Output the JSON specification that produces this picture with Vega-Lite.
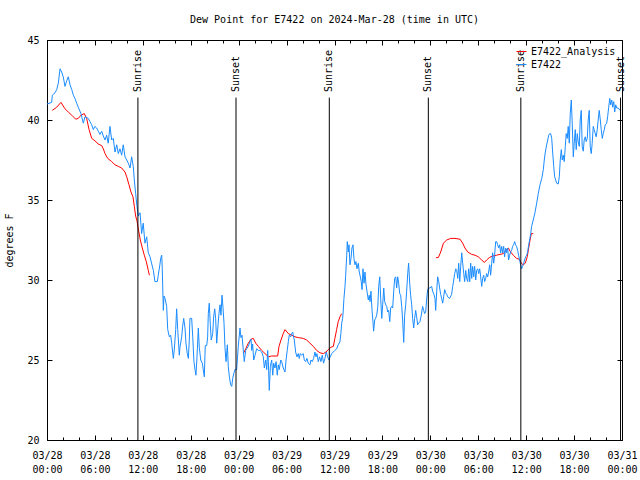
{
  "$schema": "https://vega.github.io/schema/vega-lite/v6.json",
  "width": 575,
  "height": 400,
  "autosize": {"type": "none"},
  "padding": {"left": 47, "top": 40, "right": 18, "bottom": 40},
  "background": "white",
  "title": {"text": "Dew Point for E7422 on 2024-Mar-28 (time in UTC)", "font": "DejaVu Sans Mono", "fontSize": 10, "fontWeight": "normal", "color": "black", "anchor": "middle", "offset": 10},
  "config": {
    "view": {"stroke": "black", "strokeWidth": 1},
    "font": "DejaVu Sans Mono",
    "axis": {"labelFont": "DejaVu Sans Mono", "labelFontSize": 10, "labelColor": "black", "tickColor": "black", "tickWidth": 1, "domain": false, "grid": false, "titleFont": "DejaVu Sans Mono", "titleFontSize": 10, "titleFontWeight": "normal", "titleColor": "black"},
    "legend": {"labelFont": "DejaVu Sans Mono", "labelFontSize": 10, "labelColor": "black"}
  },
  "resolve": {"axis": {"x": "independent", "y": "independent"}},
  "layer": [
    {
      "data": {
        "values": [
          {"t": "2024-03-28 00:40", "v": 40.6, "series": "E7422_Analysis", "seg": 1},
          {"t": "2024-03-28 01:13", "v": 40.8, "series": "E7422_Analysis", "seg": 1},
          {"t": "2024-03-28 01:45", "v": 41.1, "series": "E7422_Analysis", "seg": 1},
          {"t": "2024-03-28 02:15", "v": 40.7, "series": "E7422_Analysis", "seg": 1},
          {"t": "2024-03-28 02:40", "v": 40.5, "series": "E7422_Analysis", "seg": 1},
          {"t": "2024-03-28 03:06", "v": 40.3, "series": "E7422_Analysis", "seg": 1},
          {"t": "2024-03-28 03:36", "v": 40.05, "series": "E7422_Analysis", "seg": 1},
          {"t": "2024-03-28 03:55", "v": 40.1, "series": "E7422_Analysis", "seg": 1},
          {"t": "2024-03-28 04:15", "v": 40.3, "series": "E7422_Analysis", "seg": 1},
          {"t": "2024-03-28 04:40", "v": 40.4, "series": "E7422_Analysis", "seg": 1},
          {"t": "2024-03-28 04:58", "v": 40.1, "series": "E7422_Analysis", "seg": 1},
          {"t": "2024-03-28 05:16", "v": 39.4, "series": "E7422_Analysis", "seg": 1},
          {"t": "2024-03-28 05:36", "v": 38.85, "series": "E7422_Analysis", "seg": 1},
          {"t": "2024-03-28 06:00", "v": 38.7, "series": "E7422_Analysis", "seg": 1},
          {"t": "2024-03-28 06:25", "v": 38.5, "series": "E7422_Analysis", "seg": 1},
          {"t": "2024-03-28 06:51", "v": 38.4, "series": "E7422_Analysis", "seg": 1},
          {"t": "2024-03-28 07:03", "v": 38.2, "series": "E7422_Analysis", "seg": 1},
          {"t": "2024-03-28 07:16", "v": 37.9, "series": "E7422_Analysis", "seg": 1},
          {"t": "2024-03-28 07:36", "v": 37.6, "series": "E7422_Analysis", "seg": 1},
          {"t": "2024-03-28 08:06", "v": 37.4, "series": "E7422_Analysis", "seg": 1},
          {"t": "2024-03-28 08:31", "v": 37.2, "series": "E7422_Analysis", "seg": 1},
          {"t": "2024-03-28 08:56", "v": 37.1, "series": "E7422_Analysis", "seg": 1},
          {"t": "2024-03-28 09:21", "v": 37.0, "series": "E7422_Analysis", "seg": 1},
          {"t": "2024-03-28 09:46", "v": 36.75, "series": "E7422_Analysis", "seg": 1},
          {"t": "2024-03-28 09:59", "v": 36.45, "series": "E7422_Analysis", "seg": 1},
          {"t": "2024-03-28 10:16", "v": 35.95, "series": "E7422_Analysis", "seg": 1},
          {"t": "2024-03-28 10:31", "v": 35.5, "series": "E7422_Analysis", "seg": 1},
          {"t": "2024-03-28 10:46", "v": 35.2, "series": "E7422_Analysis", "seg": 1},
          {"t": "2024-03-28 10:56", "v": 34.6, "series": "E7422_Analysis", "seg": 1},
          {"t": "2024-03-28 11:06", "v": 34.0, "series": "E7422_Analysis", "seg": 1},
          {"t": "2024-03-28 11:16", "v": 33.7, "series": "E7422_Analysis", "seg": 1},
          {"t": "2024-03-28 11:26", "v": 33.2, "series": "E7422_Analysis", "seg": 1},
          {"t": "2024-03-28 11:41", "v": 32.5, "series": "E7422_Analysis", "seg": 1},
          {"t": "2024-03-28 11:56", "v": 32.0, "series": "E7422_Analysis", "seg": 1},
          {"t": "2024-03-28 12:11", "v": 31.55, "series": "E7422_Analysis", "seg": 1},
          {"t": "2024-03-28 12:26", "v": 31.15, "series": "E7422_Analysis", "seg": 1},
          {"t": "2024-03-28 12:41", "v": 30.6, "series": "E7422_Analysis", "seg": 1},
          {"t": "2024-03-28 12:49", "v": 30.3, "series": "E7422_Analysis", "seg": 1},
          {"t": "2024-03-29 00:35", "v": 25.4, "series": "E7422_Analysis", "seg": 2},
          {"t": "2024-03-29 00:53", "v": 25.7, "series": "E7422_Analysis", "seg": 2},
          {"t": "2024-03-29 01:12", "v": 26.05, "series": "E7422_Analysis", "seg": 2},
          {"t": "2024-03-29 01:33", "v": 26.3, "series": "E7422_Analysis", "seg": 2},
          {"t": "2024-03-29 01:50", "v": 26.35, "series": "E7422_Analysis", "seg": 2},
          {"t": "2024-03-29 02:08", "v": 26.05, "series": "E7422_Analysis", "seg": 2},
          {"t": "2024-03-29 02:28", "v": 25.85, "series": "E7422_Analysis", "seg": 2},
          {"t": "2024-03-29 02:53", "v": 25.6, "series": "E7422_Analysis", "seg": 2},
          {"t": "2024-03-29 03:18", "v": 25.4, "series": "E7422_Analysis", "seg": 2},
          {"t": "2024-03-29 03:43", "v": 25.2, "series": "E7422_Analysis", "seg": 2},
          {"t": "2024-03-29 04:08", "v": 25.25, "series": "E7422_Analysis", "seg": 2},
          {"t": "2024-03-29 04:33", "v": 25.25, "series": "E7422_Analysis", "seg": 2},
          {"t": "2024-03-29 04:53", "v": 25.25, "series": "E7422_Analysis", "seg": 2},
          {"t": "2024-03-29 05:03", "v": 25.85, "series": "E7422_Analysis", "seg": 2},
          {"t": "2024-03-29 05:18", "v": 26.25, "series": "E7422_Analysis", "seg": 2},
          {"t": "2024-03-29 05:35", "v": 26.65, "series": "E7422_Analysis", "seg": 2},
          {"t": "2024-03-29 05:48", "v": 26.9, "series": "E7422_Analysis", "seg": 2},
          {"t": "2024-03-29 06:13", "v": 26.65, "series": "E7422_Analysis", "seg": 2},
          {"t": "2024-03-29 06:38", "v": 26.55, "series": "E7422_Analysis", "seg": 2},
          {"t": "2024-03-29 07:03", "v": 26.45, "series": "E7422_Analysis", "seg": 2},
          {"t": "2024-03-29 07:28", "v": 26.4, "series": "E7422_Analysis", "seg": 2},
          {"t": "2024-03-29 08:05", "v": 26.35, "series": "E7422_Analysis", "seg": 2},
          {"t": "2024-03-29 08:31", "v": 26.25, "series": "E7422_Analysis", "seg": 2},
          {"t": "2024-03-29 08:56", "v": 26.05, "series": "E7422_Analysis", "seg": 2},
          {"t": "2024-03-29 09:21", "v": 25.85, "series": "E7422_Analysis", "seg": 2},
          {"t": "2024-03-29 09:46", "v": 25.6, "series": "E7422_Analysis", "seg": 2},
          {"t": "2024-03-29 10:11", "v": 25.45, "series": "E7422_Analysis", "seg": 2},
          {"t": "2024-03-29 10:36", "v": 25.4, "series": "E7422_Analysis", "seg": 2},
          {"t": "2024-03-29 10:56", "v": 25.5, "series": "E7422_Analysis", "seg": 2},
          {"t": "2024-03-29 11:13", "v": 25.65, "series": "E7422_Analysis", "seg": 2},
          {"t": "2024-03-29 11:34", "v": 25.8, "series": "E7422_Analysis", "seg": 2},
          {"t": "2024-03-29 11:51", "v": 25.85, "series": "E7422_Analysis", "seg": 2},
          {"t": "2024-03-29 12:03", "v": 26.35, "series": "E7422_Analysis", "seg": 2},
          {"t": "2024-03-29 12:16", "v": 26.9, "series": "E7422_Analysis", "seg": 2},
          {"t": "2024-03-29 12:28", "v": 27.4, "series": "E7422_Analysis", "seg": 2},
          {"t": "2024-03-29 12:41", "v": 27.7, "series": "E7422_Analysis", "seg": 2},
          {"t": "2024-03-29 12:54", "v": 27.9, "series": "E7422_Analysis", "seg": 2},
          {"t": "2024-03-30 00:43", "v": 31.4, "series": "E7422_Analysis", "seg": 3},
          {"t": "2024-03-30 01:00", "v": 31.4, "series": "E7422_Analysis", "seg": 3},
          {"t": "2024-03-30 01:18", "v": 31.75, "series": "E7422_Analysis", "seg": 3},
          {"t": "2024-03-30 01:38", "v": 32.3, "series": "E7422_Analysis", "seg": 3},
          {"t": "2024-03-30 02:03", "v": 32.5, "series": "E7422_Analysis", "seg": 3},
          {"t": "2024-03-30 02:33", "v": 32.6, "series": "E7422_Analysis", "seg": 3},
          {"t": "2024-03-30 03:05", "v": 32.6, "series": "E7422_Analysis", "seg": 3},
          {"t": "2024-03-30 03:43", "v": 32.55, "series": "E7422_Analysis", "seg": 3},
          {"t": "2024-03-30 04:03", "v": 32.3, "series": "E7422_Analysis", "seg": 3},
          {"t": "2024-03-30 04:20", "v": 32.0, "series": "E7422_Analysis", "seg": 3},
          {"t": "2024-03-30 04:41", "v": 31.75, "series": "E7422_Analysis", "seg": 3},
          {"t": "2024-03-30 05:11", "v": 31.6, "series": "E7422_Analysis", "seg": 3},
          {"t": "2024-03-30 05:36", "v": 31.55, "series": "E7422_Analysis", "seg": 3},
          {"t": "2024-03-30 06:00", "v": 31.45, "series": "E7422_Analysis", "seg": 3},
          {"t": "2024-03-30 06:26", "v": 31.25, "series": "E7422_Analysis", "seg": 3},
          {"t": "2024-03-30 06:46", "v": 31.1, "series": "E7422_Analysis", "seg": 3},
          {"t": "2024-03-30 07:03", "v": 31.25, "series": "E7422_Analysis", "seg": 3},
          {"t": "2024-03-30 07:23", "v": 31.4, "series": "E7422_Analysis", "seg": 3},
          {"t": "2024-03-30 07:48", "v": 31.5, "series": "E7422_Analysis", "seg": 3},
          {"t": "2024-03-30 08:18", "v": 31.55, "series": "E7422_Analysis", "seg": 3},
          {"t": "2024-03-30 08:43", "v": 31.6, "series": "E7422_Analysis", "seg": 3},
          {"t": "2024-03-30 09:08", "v": 31.65, "series": "E7422_Analysis", "seg": 3},
          {"t": "2024-03-30 09:28", "v": 31.85, "series": "E7422_Analysis", "seg": 3},
          {"t": "2024-03-30 09:46", "v": 32.0, "series": "E7422_Analysis", "seg": 3},
          {"t": "2024-03-30 10:03", "v": 31.75, "series": "E7422_Analysis", "seg": 3},
          {"t": "2024-03-30 10:23", "v": 31.55, "series": "E7422_Analysis", "seg": 3},
          {"t": "2024-03-30 10:48", "v": 31.35, "series": "E7422_Analysis", "seg": 3},
          {"t": "2024-03-30 11:08", "v": 31.3, "series": "E7422_Analysis", "seg": 3},
          {"t": "2024-03-30 11:23", "v": 31.05, "series": "E7422_Analysis", "seg": 3},
          {"t": "2024-03-30 11:38", "v": 30.95, "series": "E7422_Analysis", "seg": 3},
          {"t": "2024-03-30 11:53", "v": 31.05, "series": "E7422_Analysis", "seg": 3},
          {"t": "2024-03-30 12:08", "v": 31.45, "series": "E7422_Analysis", "seg": 3},
          {"t": "2024-03-30 12:19", "v": 32.0, "series": "E7422_Analysis", "seg": 3},
          {"t": "2024-03-30 12:29", "v": 32.5, "series": "E7422_Analysis", "seg": 3},
          {"t": "2024-03-30 12:39", "v": 32.9, "series": "E7422_Analysis", "seg": 3},
          {"t": "2024-03-30 12:53", "v": 32.9, "series": "E7422_Analysis", "seg": 3}
        ],
        "format": {"parse": {"t": "utc:'%Y-%m-%d %H:%M'"}}
      },
      "mark": {"type": "line", "strokeWidth": 1},
      "encoding": {
        "x": {"field": "t", "type": "temporal", "scale": {"domain": [1711584000000, 1711843200000], "nice": false},
          "axis": {"orient": "bottom", "title": null, "values": [1711584000000, 1711605600000, 1711627200000, 1711648800000, 1711670400000, 1711692000000, 1711713600000, 1711735200000, 1711756800000, 1711778400000, 1711800000000, 1711821600000, 1711843200000], "tickSize": -5, "labelPadding": 15, "labelLineHeight": 14, "labelExpr": "[utcFormat(datum.value, '%m/%d'), utcFormat(datum.value, '%H:%M')]", "labelFlush": false, "labelOverlap": false}},
        "y": {"field": "v", "type": "quantitative", "scale": {"domain": [20, 45], "nice": false, "zero": false},
          "axis": {"orient": "left", "values": [20, 25, 30, 35, 40, 45], "tickSize": -5, "labelPadding": 13, "title": "degrees F", "titlePadding": 12}},
        "color": {"field": "series", "type": "nominal", "scale": {"domain": ["E7422_Analysis", "E7422"], "range": ["#ff0000", "#1a8cff"]},
          "legend": {"orient": "top-right", "offset": 6, "title": null, "symbolType": "stroke", "symbolStrokeWidth": 1}},
        "detail": {"field": "seg", "type": "nominal"}
      }
    },
    {
      "data": {
        "values": [
          {"t": "2024-03-28 00:00", "v": 41.0}, {"t": "2024-03-28 00:35", "v": 41.1}, {"t": "2024-03-28 00:40", "v": 41.55}, {"t": "2024-03-28 01:00", "v": 41.7}, {"t": "2024-03-28 01:13", "v": 41.9}, {"t": "2024-03-28 01:25", "v": 42.3}, {"t": "2024-03-28 01:38", "v": 43.2}, {"t": "2024-03-28 01:50", "v": 43.0}, {"t": "2024-03-28 02:02", "v": 42.7}, {"t": "2024-03-28 02:15", "v": 42.1}, {"t": "2024-03-28 02:28", "v": 42.45}, {"t": "2024-03-28 02:40", "v": 42.7}, {"t": "2024-03-28 02:53", "v": 42.2}, {"t": "2024-03-28 03:06", "v": 41.9}, {"t": "2024-03-28 03:18", "v": 41.55}, {"t": "2024-03-28 03:30", "v": 41.35}, {"t": "2024-03-28 03:43", "v": 41.05}, {"t": "2024-03-28 03:55", "v": 40.8}, {"t": "2024-03-28 04:15", "v": 40.4}, {"t": "2024-03-28 04:33", "v": 39.8}, {"t": "2024-03-28 04:45", "v": 40.2}, {"t": "2024-03-28 05:10", "v": 40.1}, {"t": "2024-03-28 05:23", "v": 39.9}, {"t": "2024-03-28 05:36", "v": 39.7}, {"t": "2024-03-28 05:48", "v": 39.4}, {"t": "2024-03-28 06:00", "v": 39.6}, {"t": "2024-03-28 06:13", "v": 39.5}, {"t": "2024-03-28 06:25", "v": 39.3}, {"t": "2024-03-28 06:38", "v": 39.1}, {"t": "2024-03-28 06:51", "v": 39.3}, {"t": "2024-03-28 07:03", "v": 39.0}, {"t": "2024-03-28 07:16", "v": 38.75}, {"t": "2024-03-28 07:28", "v": 39.05}, {"t": "2024-03-28 07:40", "v": 38.55}, {"t": "2024-03-28 07:53", "v": 39.6}, {"t": "2024-03-28 08:06", "v": 38.75}, {"t": "2024-03-28 08:18", "v": 38.85}, {"t": "2024-03-28 08:31", "v": 38.0}, {"t": "2024-03-28 08:44", "v": 38.45}, {"t": "2024-03-28 08:56", "v": 37.9}, {"t": "2024-03-28 09:08", "v": 38.2}, {"t": "2024-03-28 09:21", "v": 37.8}, {"t": "2024-03-28 09:33", "v": 38.45}, {"t": "2024-03-28 09:46", "v": 37.7}, {"t": "2024-03-28 09:59", "v": 37.5}, {"t": "2024-03-28 10:11", "v": 37.3}, {"t": "2024-03-28 10:24", "v": 37.0}, {"t": "2024-03-28 10:36", "v": 37.7}, {"t": "2024-03-28 10:48", "v": 37.1}, {"t": "2024-03-28 10:56", "v": 36.25}, {"t": "2024-03-28 11:06", "v": 35.4}, {"t": "2024-03-28 11:16", "v": 34.6}, {"t": "2024-03-28 11:26", "v": 34.0}, {"t": "2024-03-28 11:39", "v": 34.2}, {"t": "2024-03-28 11:51", "v": 32.9}, {"t": "2024-03-28 12:03", "v": 33.55}, {"t": "2024-03-28 12:16", "v": 32.3}, {"t": "2024-03-28 12:29", "v": 32.7}, {"t": "2024-03-28 12:41", "v": 31.7}, {"t": "2024-03-28 12:54", "v": 31.45}, {"t": "2024-03-28 13:07", "v": 31.0}, {"t": "2024-03-28 13:19", "v": 30.6}, {"t": "2024-03-28 13:31", "v": 29.9}, {"t": "2024-03-28 13:49", "v": 29.9}, {"t": "2024-03-28 13:56", "v": 30.3}, {"t": "2024-03-28 14:09", "v": 31.0}, {"t": "2024-03-28 14:14", "v": 31.35}, {"t": "2024-03-28 14:22", "v": 31.55}, {"t": "2024-03-28 14:26", "v": 30.7}, {"t": "2024-03-28 14:34", "v": 28.1}, {"t": "2024-03-28 14:39", "v": 29.0}, {"t": "2024-03-28 14:47", "v": 28.85}, {"t": "2024-03-28 14:59", "v": 28.35}, {"t": "2024-03-28 15:07", "v": 26.9}, {"t": "2024-03-28 15:19", "v": 26.45}, {"t": "2024-03-28 15:29", "v": 26.55}, {"t": "2024-03-28 15:37", "v": 26.05}, {"t": "2024-03-28 15:49", "v": 25.1}, {"t": "2024-03-28 15:56", "v": 25.6}, {"t": "2024-03-28 16:07", "v": 26.9}, {"t": "2024-03-28 16:14", "v": 28.2}, {"t": "2024-03-28 16:22", "v": 26.9}, {"t": "2024-03-28 16:34", "v": 25.3}, {"t": "2024-03-28 16:39", "v": 25.8}, {"t": "2024-03-28 16:52", "v": 26.45}, {"t": "2024-03-28 16:59", "v": 27.1}, {"t": "2024-03-28 17:07", "v": 27.6}, {"t": "2024-03-28 17:17", "v": 27.0}, {"t": "2024-03-28 17:24", "v": 26.05}, {"t": "2024-03-28 17:34", "v": 25.4}, {"t": "2024-03-28 17:42", "v": 25.1}, {"t": "2024-03-28 17:49", "v": 26.25}, {"t": "2024-03-28 17:54", "v": 27.6}, {"t": "2024-03-28 18:07", "v": 27.6}, {"t": "2024-03-28 18:15", "v": 26.45}, {"t": "2024-03-28 18:24", "v": 24.9}, {"t": "2024-03-28 18:32", "v": 24.4}, {"t": "2024-03-28 18:39", "v": 24.05}, {"t": "2024-03-28 18:47", "v": 25.2}, {"t": "2024-03-28 18:57", "v": 27.0}, {"t": "2024-03-28 19:04", "v": 25.8}, {"t": "2024-03-28 19:15", "v": 25.0}, {"t": "2024-03-28 19:27", "v": 24.8}, {"t": "2024-03-28 19:34", "v": 24.4}, {"t": "2024-03-28 19:42", "v": 23.95}, {"t": "2024-03-28 19:49", "v": 25.9}, {"t": "2024-03-28 20:00", "v": 25.9}, {"t": "2024-03-28 20:07", "v": 26.45}, {"t": "2024-03-28 20:12", "v": 27.9}, {"t": "2024-03-28 20:19", "v": 28.55}, {"t": "2024-03-28 20:27", "v": 27.2}, {"t": "2024-03-28 20:34", "v": 26.25}, {"t": "2024-03-28 20:45", "v": 26.65}, {"t": "2024-03-28 20:52", "v": 27.7}, {"t": "2024-03-28 21:00", "v": 28.2}, {"t": "2024-03-28 21:07", "v": 27.6}, {"t": "2024-03-28 21:15", "v": 26.05}, {"t": "2024-03-28 21:25", "v": 27.2}, {"t": "2024-03-28 21:32", "v": 27.9}, {"t": "2024-03-28 21:40", "v": 28.45}, {"t": "2024-03-28 21:47", "v": 27.8}, {"t": "2024-03-28 21:55", "v": 29.05}, {"t": "2024-03-28 22:02", "v": 28.3}, {"t": "2024-03-28 22:10", "v": 27.3}, {"t": "2024-03-28 22:17", "v": 25.8}, {"t": "2024-03-28 22:25", "v": 24.9}, {"t": "2024-03-28 22:35", "v": 25.95}, {"t": "2024-03-28 22:42", "v": 24.6}, {"t": "2024-03-28 22:50", "v": 23.95}, {"t": "2024-03-28 23:00", "v": 23.45}, {"t": "2024-03-28 23:08", "v": 23.35}, {"t": "2024-03-28 23:15", "v": 23.85}, {"t": "2024-03-28 23:25", "v": 24.2}, {"t": "2024-03-28 23:32", "v": 24.4}, {"t": "2024-03-28 23:45", "v": 24.4}, {"t": "2024-03-28 23:57", "v": 25.85},
          {"t": "2024-03-29 00:10", "v": 27.0}, {"t": "2024-03-29 00:17", "v": 26.4}, {"t": "2024-03-29 00:25", "v": 26.55}, {"t": "2024-03-29 00:35", "v": 25.6}, {"t": "2024-03-29 00:42", "v": 24.9}, {"t": "2024-03-29 00:53", "v": 25.6}, {"t": "2024-03-29 01:00", "v": 25.7}, {"t": "2024-03-29 01:12", "v": 25.85}, {"t": "2024-03-29 01:25", "v": 26.15}, {"t": "2024-03-29 01:33", "v": 26.3}, {"t": "2024-03-29 01:38", "v": 25.6}, {"t": "2024-03-29 01:45", "v": 26.0}, {"t": "2024-03-29 01:53", "v": 25.0}, {"t": "2024-03-29 02:03", "v": 25.3}, {"t": "2024-03-29 02:15", "v": 25.7}, {"t": "2024-03-29 02:28", "v": 25.6}, {"t": "2024-03-29 02:40", "v": 25.6}, {"t": "2024-03-29 02:53", "v": 25.5}, {"t": "2024-03-29 03:05", "v": 25.2}, {"t": "2024-03-29 03:13", "v": 24.5}, {"t": "2024-03-29 03:23", "v": 25.0}, {"t": "2024-03-29 03:31", "v": 24.4}, {"t": "2024-03-29 03:38", "v": 25.6}, {"t": "2024-03-29 03:43", "v": 24.9}, {"t": "2024-03-29 03:50", "v": 23.1}, {"t": "2024-03-29 03:58", "v": 24.6}, {"t": "2024-03-29 04:08", "v": 25.0}, {"t": "2024-03-29 04:16", "v": 24.05}, {"t": "2024-03-29 04:23", "v": 24.8}, {"t": "2024-03-29 04:33", "v": 24.5}, {"t": "2024-03-29 04:41", "v": 24.9}, {"t": "2024-03-29 04:50", "v": 24.05}, {"t": "2024-03-29 04:58", "v": 24.7}, {"t": "2024-03-29 05:05", "v": 24.4}, {"t": "2024-03-29 05:16", "v": 25.0}, {"t": "2024-03-29 05:23", "v": 24.9}, {"t": "2024-03-29 05:35", "v": 24.5}, {"t": "2024-03-29 05:48", "v": 24.25}, {"t": "2024-03-29 05:56", "v": 25.0}, {"t": "2024-03-29 06:05", "v": 25.6}, {"t": "2024-03-29 06:13", "v": 26.15}, {"t": "2024-03-29 06:20", "v": 26.55}, {"t": "2024-03-29 06:31", "v": 26.45}, {"t": "2024-03-29 06:38", "v": 26.65}, {"t": "2024-03-29 06:46", "v": 26.75}, {"t": "2024-03-29 06:50", "v": 26.55}, {"t": "2024-03-29 06:58", "v": 26.25}, {"t": "2024-03-29 07:08", "v": 25.5}, {"t": "2024-03-29 07:18", "v": 25.2}, {"t": "2024-03-29 07:28", "v": 25.4}, {"t": "2024-03-29 07:35", "v": 25.1}, {"t": "2024-03-29 07:43", "v": 25.4}, {"t": "2024-03-29 07:53", "v": 25.3}, {"t": "2024-03-29 08:05", "v": 25.4}, {"t": "2024-03-29 08:13", "v": 25.0}, {"t": "2024-03-29 08:23", "v": 24.9}, {"t": "2024-03-29 08:33", "v": 25.1}, {"t": "2024-03-29 08:43", "v": 24.8}, {"t": "2024-03-29 08:56", "v": 24.7}, {"t": "2024-03-29 09:03", "v": 25.0}, {"t": "2024-03-29 09:13", "v": 24.9}, {"t": "2024-03-29 09:23", "v": 25.1}, {"t": "2024-03-29 09:33", "v": 25.5}, {"t": "2024-03-29 09:41", "v": 25.2}, {"t": "2024-03-29 09:48", "v": 25.4}, {"t": "2024-03-29 09:58", "v": 24.9}, {"t": "2024-03-29 10:08", "v": 25.2}, {"t": "2024-03-29 10:18", "v": 24.9}, {"t": "2024-03-29 10:28", "v": 25.3}, {"t": "2024-03-29 10:38", "v": 24.8}, {"t": "2024-03-29 10:48", "v": 25.1}, {"t": "2024-03-29 10:58", "v": 25.5}, {"t": "2024-03-29 11:08", "v": 25.2}, {"t": "2024-03-29 11:18", "v": 25.0}, {"t": "2024-03-29 11:28", "v": 25.2}, {"t": "2024-03-29 11:39", "v": 25.4}, {"t": "2024-03-29 11:51", "v": 25.5}, {"t": "2024-03-29 12:03", "v": 25.6}, {"t": "2024-03-29 12:16", "v": 25.7}, {"t": "2024-03-29 12:28", "v": 25.95}, {"t": "2024-03-29 12:41", "v": 26.15}, {"t": "2024-03-29 12:48", "v": 26.65}, {"t": "2024-03-29 12:54", "v": 27.3}, {"t": "2024-03-29 13:01", "v": 27.6}, {"t": "2024-03-29 13:05", "v": 28.0}, {"t": "2024-03-29 13:11", "v": 28.85}, {"t": "2024-03-29 13:19", "v": 29.6}, {"t": "2024-03-29 13:24", "v": 30.3}, {"t": "2024-03-29 13:32", "v": 31.55}, {"t": "2024-03-29 13:36", "v": 32.4}, {"t": "2024-03-29 13:44", "v": 31.75}, {"t": "2024-03-29 13:49", "v": 32.2}, {"t": "2024-03-29 13:56", "v": 30.95}, {"t": "2024-03-29 14:04", "v": 31.35}, {"t": "2024-03-29 14:11", "v": 32.0}, {"t": "2024-03-29 14:19", "v": 32.2}, {"t": "2024-03-29 14:26", "v": 31.35}, {"t": "2024-03-29 14:34", "v": 30.95}, {"t": "2024-03-29 14:41", "v": 31.15}, {"t": "2024-03-29 14:49", "v": 30.7}, {"t": "2024-03-29 14:59", "v": 31.05}, {"t": "2024-03-29 15:06", "v": 30.5}, {"t": "2024-03-29 15:14", "v": 30.2}, {"t": "2024-03-29 15:21", "v": 29.9}, {"t": "2024-03-29 15:27", "v": 29.4}, {"t": "2024-03-29 15:34", "v": 30.7}, {"t": "2024-03-29 15:42", "v": 29.8}, {"t": "2024-03-29 15:49", "v": 30.5}, {"t": "2024-03-29 15:57", "v": 29.7}, {"t": "2024-03-29 16:04", "v": 29.3}, {"t": "2024-03-29 16:14", "v": 28.75}, {"t": "2024-03-29 16:21", "v": 29.05}, {"t": "2024-03-29 16:27", "v": 28.65}, {"t": "2024-03-29 16:34", "v": 29.3}, {"t": "2024-03-29 16:42", "v": 28.1}, {"t": "2024-03-29 16:49", "v": 27.4}, {"t": "2024-03-29 16:54", "v": 26.8}, {"t": "2024-03-29 17:02", "v": 27.5}, {"t": "2024-03-29 17:09", "v": 27.6}, {"t": "2024-03-29 17:17", "v": 27.8}, {"t": "2024-03-29 17:25", "v": 28.3}, {"t": "2024-03-29 17:32", "v": 29.6}, {"t": "2024-03-29 17:40", "v": 30.2}, {"t": "2024-03-29 17:47", "v": 28.85}, {"t": "2024-03-29 17:55", "v": 27.6}, {"t": "2024-03-29 18:02", "v": 28.45}, {"t": "2024-03-29 18:10", "v": 29.5}, {"t": "2024-03-29 18:17", "v": 28.65}, {"t": "2024-03-29 18:25", "v": 28.45}, {"t": "2024-03-29 18:32", "v": 28.35}, {"t": "2024-03-29 18:40", "v": 28.0}, {"t": "2024-03-29 18:47", "v": 28.1}, {"t": "2024-03-29 18:55", "v": 27.4}, {"t": "2024-03-29 19:02", "v": 28.25}, {"t": "2024-03-29 19:10", "v": 28.35}, {"t": "2024-03-29 19:17", "v": 28.25}, {"t": "2024-03-29 19:25", "v": 29.3}, {"t": "2024-03-29 19:32", "v": 30.1}, {"t": "2024-03-29 19:40", "v": 30.2}, {"t": "2024-03-29 19:47", "v": 29.5}, {"t": "2024-03-29 19:55", "v": 30.2}, {"t": "2024-03-29 20:02", "v": 29.8}, {"t": "2024-03-29 20:10", "v": 29.15}, {"t": "2024-03-29 20:17", "v": 29.05}, {"t": "2024-03-29 20:25", "v": 28.35}, {"t": "2024-03-29 20:32", "v": 27.5}, {"t": "2024-03-29 20:40", "v": 26.1}, {"t": "2024-03-29 20:47", "v": 27.8}, {"t": "2024-03-29 20:55", "v": 28.45}, {"t": "2024-03-29 21:02", "v": 29.3}, {"t": "2024-03-29 21:10", "v": 30.4}, {"t": "2024-03-29 21:17", "v": 31.05}, {"t": "2024-03-29 21:25", "v": 29.8}, {"t": "2024-03-29 21:32", "v": 29.05}, {"t": "2024-03-29 21:40", "v": 28.45}, {"t": "2024-03-29 21:47", "v": 27.6}, {"t": "2024-03-29 21:55", "v": 27.0}, {"t": "2024-03-29 22:02", "v": 27.6}, {"t": "2024-03-29 22:10", "v": 28.1}, {"t": "2024-03-29 22:17", "v": 27.7}, {"t": "2024-03-29 22:25", "v": 27.2}, {"t": "2024-03-29 22:32", "v": 27.3}, {"t": "2024-03-29 22:42", "v": 27.4}, {"t": "2024-03-29 22:52", "v": 27.8}, {"t": "2024-03-29 23:02", "v": 28.35}, {"t": "2024-03-29 23:10", "v": 28.1}, {"t": "2024-03-29 23:17", "v": 27.9}, {"t": "2024-03-29 23:25", "v": 28.0}, {"t": "2024-03-29 23:32", "v": 28.75}, {"t": "2024-03-29 23:40", "v": 29.4}, {"t": "2024-03-29 23:47", "v": 29.5}, {"t": "2024-03-29 23:57", "v": 29.5},
          {"t": "2024-03-30 00:10", "v": 29.6}, {"t": "2024-03-30 00:17", "v": 29.3}, {"t": "2024-03-30 00:27", "v": 29.1}, {"t": "2024-03-30 00:35", "v": 28.85}, {"t": "2024-03-30 00:40", "v": 28.1}, {"t": "2024-03-30 00:48", "v": 29.3}, {"t": "2024-03-30 00:55", "v": 30.2}, {"t": "2024-03-30 01:03", "v": 29.9}, {"t": "2024-03-30 01:10", "v": 29.5}, {"t": "2024-03-30 01:18", "v": 29.1}, {"t": "2024-03-30 01:25", "v": 28.85}, {"t": "2024-03-30 01:33", "v": 28.55}, {"t": "2024-03-30 01:40", "v": 28.95}, {"t": "2024-03-30 01:48", "v": 29.4}, {"t": "2024-03-30 01:55", "v": 29.2}, {"t": "2024-03-30 02:03", "v": 29.1}, {"t": "2024-03-30 02:10", "v": 28.95}, {"t": "2024-03-30 02:25", "v": 28.85}, {"t": "2024-03-30 02:40", "v": 29.1}, {"t": "2024-03-30 02:48", "v": 29.6}, {"t": "2024-03-30 02:56", "v": 30.0}, {"t": "2024-03-30 03:03", "v": 30.4}, {"t": "2024-03-30 03:11", "v": 30.7}, {"t": "2024-03-30 03:18", "v": 30.6}, {"t": "2024-03-30 03:26", "v": 30.1}, {"t": "2024-03-30 03:33", "v": 31.05}, {"t": "2024-03-30 03:41", "v": 29.9}, {"t": "2024-03-30 03:48", "v": 30.85}, {"t": "2024-03-30 03:56", "v": 31.7}, {"t": "2024-03-30 04:03", "v": 31.05}, {"t": "2024-03-30 04:11", "v": 30.4}, {"t": "2024-03-30 04:18", "v": 29.9}, {"t": "2024-03-30 04:26", "v": 30.6}, {"t": "2024-03-30 04:33", "v": 30.1}, {"t": "2024-03-30 04:41", "v": 29.9}, {"t": "2024-03-30 04:48", "v": 30.7}, {"t": "2024-03-30 04:56", "v": 29.9}, {"t": "2024-03-30 05:03", "v": 31.05}, {"t": "2024-03-30 05:11", "v": 30.1}, {"t": "2024-03-30 05:18", "v": 30.85}, {"t": "2024-03-30 05:26", "v": 30.2}, {"t": "2024-03-30 05:33", "v": 30.85}, {"t": "2024-03-30 05:41", "v": 30.0}, {"t": "2024-03-30 05:48", "v": 30.6}, {"t": "2024-03-30 05:56", "v": 30.7}, {"t": "2024-03-30 06:03", "v": 30.4}, {"t": "2024-03-30 06:11", "v": 30.7}, {"t": "2024-03-30 06:18", "v": 30.2}, {"t": "2024-03-30 06:26", "v": 29.6}, {"t": "2024-03-30 06:33", "v": 30.1}, {"t": "2024-03-30 06:41", "v": 30.3}, {"t": "2024-03-30 06:48", "v": 29.9}, {"t": "2024-03-30 06:56", "v": 30.1}, {"t": "2024-03-30 07:03", "v": 30.4}, {"t": "2024-03-30 07:11", "v": 30.2}, {"t": "2024-03-30 07:18", "v": 30.5}, {"t": "2024-03-30 07:26", "v": 30.95}, {"t": "2024-03-30 07:33", "v": 30.3}, {"t": "2024-03-30 07:41", "v": 31.05}, {"t": "2024-03-30 07:48", "v": 31.7}, {"t": "2024-03-30 07:56", "v": 31.05}, {"t": "2024-03-30 08:03", "v": 31.55}, {"t": "2024-03-30 08:11", "v": 32.4}, {"t": "2024-03-30 08:18", "v": 32.4}, {"t": "2024-03-30 08:26", "v": 32.2}, {"t": "2024-03-30 08:33", "v": 32.0}, {"t": "2024-03-30 08:41", "v": 32.2}, {"t": "2024-03-30 08:48", "v": 31.7}, {"t": "2024-03-30 08:56", "v": 32.1}, {"t": "2024-03-30 09:03", "v": 31.7}, {"t": "2024-03-30 09:11", "v": 32.1}, {"t": "2024-03-30 09:18", "v": 31.45}, {"t": "2024-03-30 09:26", "v": 32.0}, {"t": "2024-03-30 09:33", "v": 31.7}, {"t": "2024-03-30 09:41", "v": 32.0}, {"t": "2024-03-30 09:48", "v": 31.25}, {"t": "2024-03-30 09:56", "v": 31.55}, {"t": "2024-03-30 10:03", "v": 31.75}, {"t": "2024-03-30 10:11", "v": 31.85}, {"t": "2024-03-30 10:18", "v": 32.1}, {"t": "2024-03-30 10:26", "v": 32.2}, {"t": "2024-03-30 10:33", "v": 32.4}, {"t": "2024-03-30 10:41", "v": 32.2}, {"t": "2024-03-30 10:48", "v": 32.1}, {"t": "2024-03-30 10:56", "v": 31.85}, {"t": "2024-03-30 11:03", "v": 31.55}, {"t": "2024-03-30 11:11", "v": 31.25}, {"t": "2024-03-30 11:18", "v": 30.95}, {"t": "2024-03-30 11:26", "v": 30.7}, {"t": "2024-03-30 11:33", "v": 30.85}, {"t": "2024-03-30 11:41", "v": 31.05}, {"t": "2024-03-30 11:48", "v": 31.25}, {"t": "2024-03-30 11:56", "v": 31.45}, {"t": "2024-03-30 12:04", "v": 31.55}, {"t": "2024-03-30 12:11", "v": 31.75}, {"t": "2024-03-30 12:19", "v": 32.2}, {"t": "2024-03-30 12:26", "v": 32.5}, {"t": "2024-03-30 12:34", "v": 32.9}, {"t": "2024-03-30 12:41", "v": 33.35}, {"t": "2024-03-30 12:53", "v": 33.75}, {"t": "2024-03-30 13:06", "v": 34.2}, {"t": "2024-03-30 13:19", "v": 34.8}, {"t": "2024-03-30 13:31", "v": 35.4}, {"t": "2024-03-30 13:44", "v": 35.95}, {"t": "2024-03-30 13:57", "v": 36.35}, {"t": "2024-03-30 14:09", "v": 36.9}, {"t": "2024-03-30 14:16", "v": 37.5}, {"t": "2024-03-30 14:24", "v": 38.0}, {"t": "2024-03-30 14:34", "v": 38.45}, {"t": "2024-03-30 14:42", "v": 38.75}, {"t": "2024-03-30 14:49", "v": 39.05}, {"t": "2024-03-30 14:57", "v": 39.15}, {"t": "2024-03-30 15:04", "v": 39.15}, {"t": "2024-03-30 15:12", "v": 38.85}, {"t": "2024-03-30 15:19", "v": 38.0}, {"t": "2024-03-30 15:27", "v": 37.1}, {"t": "2024-03-30 15:34", "v": 36.45}, {"t": "2024-03-30 15:42", "v": 36.25}, {"t": "2024-03-30 15:49", "v": 36.05}, {"t": "2024-03-30 16:01", "v": 36.0}, {"t": "2024-03-30 16:09", "v": 36.45}, {"t": "2024-03-30 16:16", "v": 37.5}, {"t": "2024-03-30 16:24", "v": 38.15}, {"t": "2024-03-30 16:31", "v": 37.5}, {"t": "2024-03-30 16:39", "v": 37.8}, {"t": "2024-03-30 16:46", "v": 37.4}, {"t": "2024-03-30 16:54", "v": 38.35}, {"t": "2024-03-30 17:01", "v": 39.15}, {"t": "2024-03-30 17:09", "v": 38.85}, {"t": "2024-03-30 17:16", "v": 39.6}, {"t": "2024-03-30 17:24", "v": 38.55}, {"t": "2024-03-30 17:31", "v": 40.4}, {"t": "2024-03-30 17:39", "v": 41.25}, {"t": "2024-03-30 17:46", "v": 39.8}, {"t": "2024-03-30 17:54", "v": 37.7}, {"t": "2024-03-30 18:01", "v": 38.55}, {"t": "2024-03-30 18:09", "v": 39.4}, {"t": "2024-03-30 18:16", "v": 38.15}, {"t": "2024-03-30 18:24", "v": 39.15}, {"t": "2024-03-30 18:31", "v": 38.65}, {"t": "2024-03-30 18:39", "v": 38.35}, {"t": "2024-03-30 18:46", "v": 40.0}, {"t": "2024-03-30 18:54", "v": 40.6}, {"t": "2024-03-30 19:01", "v": 38.35}, {"t": "2024-03-30 19:09", "v": 38.05}, {"t": "2024-03-30 19:16", "v": 38.75}, {"t": "2024-03-30 19:24", "v": 38.95}, {"t": "2024-03-30 19:31", "v": 38.65}, {"t": "2024-03-30 19:39", "v": 38.85}, {"t": "2024-03-30 19:46", "v": 40.0}, {"t": "2024-03-30 19:54", "v": 40.6}, {"t": "2024-03-30 20:01", "v": 38.35}, {"t": "2024-03-30 20:09", "v": 37.9}, {"t": "2024-03-30 20:16", "v": 38.55}, {"t": "2024-03-30 20:24", "v": 39.6}, {"t": "2024-03-30 20:31", "v": 39.4}, {"t": "2024-03-30 20:39", "v": 39.15}, {"t": "2024-03-30 20:46", "v": 38.95}, {"t": "2024-03-30 20:54", "v": 39.4}, {"t": "2024-03-30 21:01", "v": 40.0}, {"t": "2024-03-30 21:09", "v": 40.6}, {"t": "2024-03-30 21:17", "v": 40.0}, {"t": "2024-03-30 21:24", "v": 39.4}, {"t": "2024-03-30 21:32", "v": 38.85}, {"t": "2024-03-30 21:39", "v": 39.15}, {"t": "2024-03-30 21:47", "v": 39.4}, {"t": "2024-03-30 21:54", "v": 39.7}, {"t": "2024-03-30 22:05", "v": 39.8}, {"t": "2024-03-30 22:12", "v": 40.2}, {"t": "2024-03-30 22:20", "v": 40.8}, {"t": "2024-03-30 22:28", "v": 41.35}, {"t": "2024-03-30 22:35", "v": 40.95}, {"t": "2024-03-30 22:43", "v": 41.25}, {"t": "2024-03-30 22:50", "v": 40.8}, {"t": "2024-03-30 22:58", "v": 41.15}, {"t": "2024-03-30 23:05", "v": 40.5}, {"t": "2024-03-30 23:13", "v": 40.95}, {"t": "2024-03-30 23:20", "v": 40.75}, {"t": "2024-03-30 23:32", "v": 40.75}, {"t": "2024-03-30 23:45", "v": 40.6}
        ],
        "format": {"parse": {"t": "utc:'%Y-%m-%d %H:%M'"}}
      },
      "transform": [{"calculate": "'E7422'", "as": "series"}],
      "mark": {"type": "line", "strokeWidth": 1},
      "encoding": {
        "x": {"field": "t", "type": "temporal", "axis": {"orient": "top", "title": null, "labels": false, "values": [1711584000000, 1711605600000, 1711627200000, 1711648800000, 1711670400000, 1711692000000, 1711713600000, 1711735200000, 1711756800000, 1711778400000, 1711800000000, 1711821600000, 1711843200000], "tickSize": -5}},
        "y": {"field": "v", "type": "quantitative", "axis": {"orient": "right", "title": null, "labels": false, "values": [20, 25, 30, 35, 40, 45], "tickSize": -5}},
        "color": {"field": "series", "type": "nominal"}
      }
    },
    {
      "data": {
        "values": [
          {"event": "sunrise 1", "time": "2024-03-28T11:23:00Z"},
          {"event": "sunset 1", "time": "2024-03-28T23:40:00Z"},
          {"event": "sunrise 2", "time": "2024-03-29T11:21:00Z"},
          {"event": "sunset 2", "time": "2024-03-29T23:45:00Z"},
          {"event": "sunrise 3", "time": "2024-03-30T11:20:00Z"},
          {"event": "sunset 3", "time": "2024-03-30T23:49:00Z"}
        ]
      },
      "mark": {"type": "rule", "color": "black", "strokeWidth": 1},
      "encoding": {
        "x": {"field": "time", "type": "temporal", "axis": {"orient": "bottom", "title": null, "labels": false, "values": [1711584000000, 1711591200000, 1711598400000, 1711605600000, 1711612800000, 1711620000000, 1711627200000, 1711634400000, 1711641600000, 1711648800000, 1711656000000, 1711663200000, 1711670400000, 1711677600000, 1711684800000, 1711692000000, 1711699200000, 1711706400000, 1711713600000, 1711720800000, 1711728000000, 1711735200000, 1711742400000, 1711749600000, 1711756800000, 1711764000000, 1711771200000, 1711778400000, 1711785600000, 1711792800000, 1711800000000, 1711807200000, 1711814400000, 1711821600000, 1711828800000, 1711836000000, 1711843200000], "tickSize": -3}},
        "y": {"datum": 41.4, "type": "quantitative", "axis": null},
        "y2": {"datum": 20}
      }
    },
    {
      "data": {
        "values": [
          {"when": "2024-03-28T11:23:00Z", "label": "Sunrise"},
          {"when": "2024-03-28T23:40:00Z", "label": "Sunset"},
          {"when": "2024-03-29T11:21:00Z", "label": "Sunrise"},
          {"when": "2024-03-29T23:45:00Z", "label": "Sunset"},
          {"when": "2024-03-30T11:20:00Z", "label": "Sunrise"},
          {"when": "2024-03-30T23:49:00Z", "label": "Sunset"}
        ]
      },
      "mark": {"type": "text", "angle": 270, "align": "left", "baseline": "middle", "font": "DejaVu Sans Mono", "fontSize": 10, "color": "black"},
      "encoding": {
        "x": {"field": "when", "type": "temporal", "axis": {"orient": "top", "title": null, "labels": false, "values": [1711584000000, 1711591200000, 1711598400000, 1711605600000, 1711612800000, 1711620000000, 1711627200000, 1711634400000, 1711641600000, 1711648800000, 1711656000000, 1711663200000, 1711670400000, 1711677600000, 1711684800000, 1711692000000, 1711699200000, 1711706400000, 1711713600000, 1711720800000, 1711728000000, 1711735200000, 1711742400000, 1711749600000, 1711756800000, 1711764000000, 1711771200000, 1711778400000, 1711785600000, 1711792800000, 1711800000000, 1711807200000, 1711814400000, 1711821600000, 1711828800000, 1711836000000, 1711843200000], "tickSize": -3}},
        "y": {"datum": 41.75, "type": "quantitative", "axis": null},
        "text": {"field": "label"}
      }
    }
  ]
}
